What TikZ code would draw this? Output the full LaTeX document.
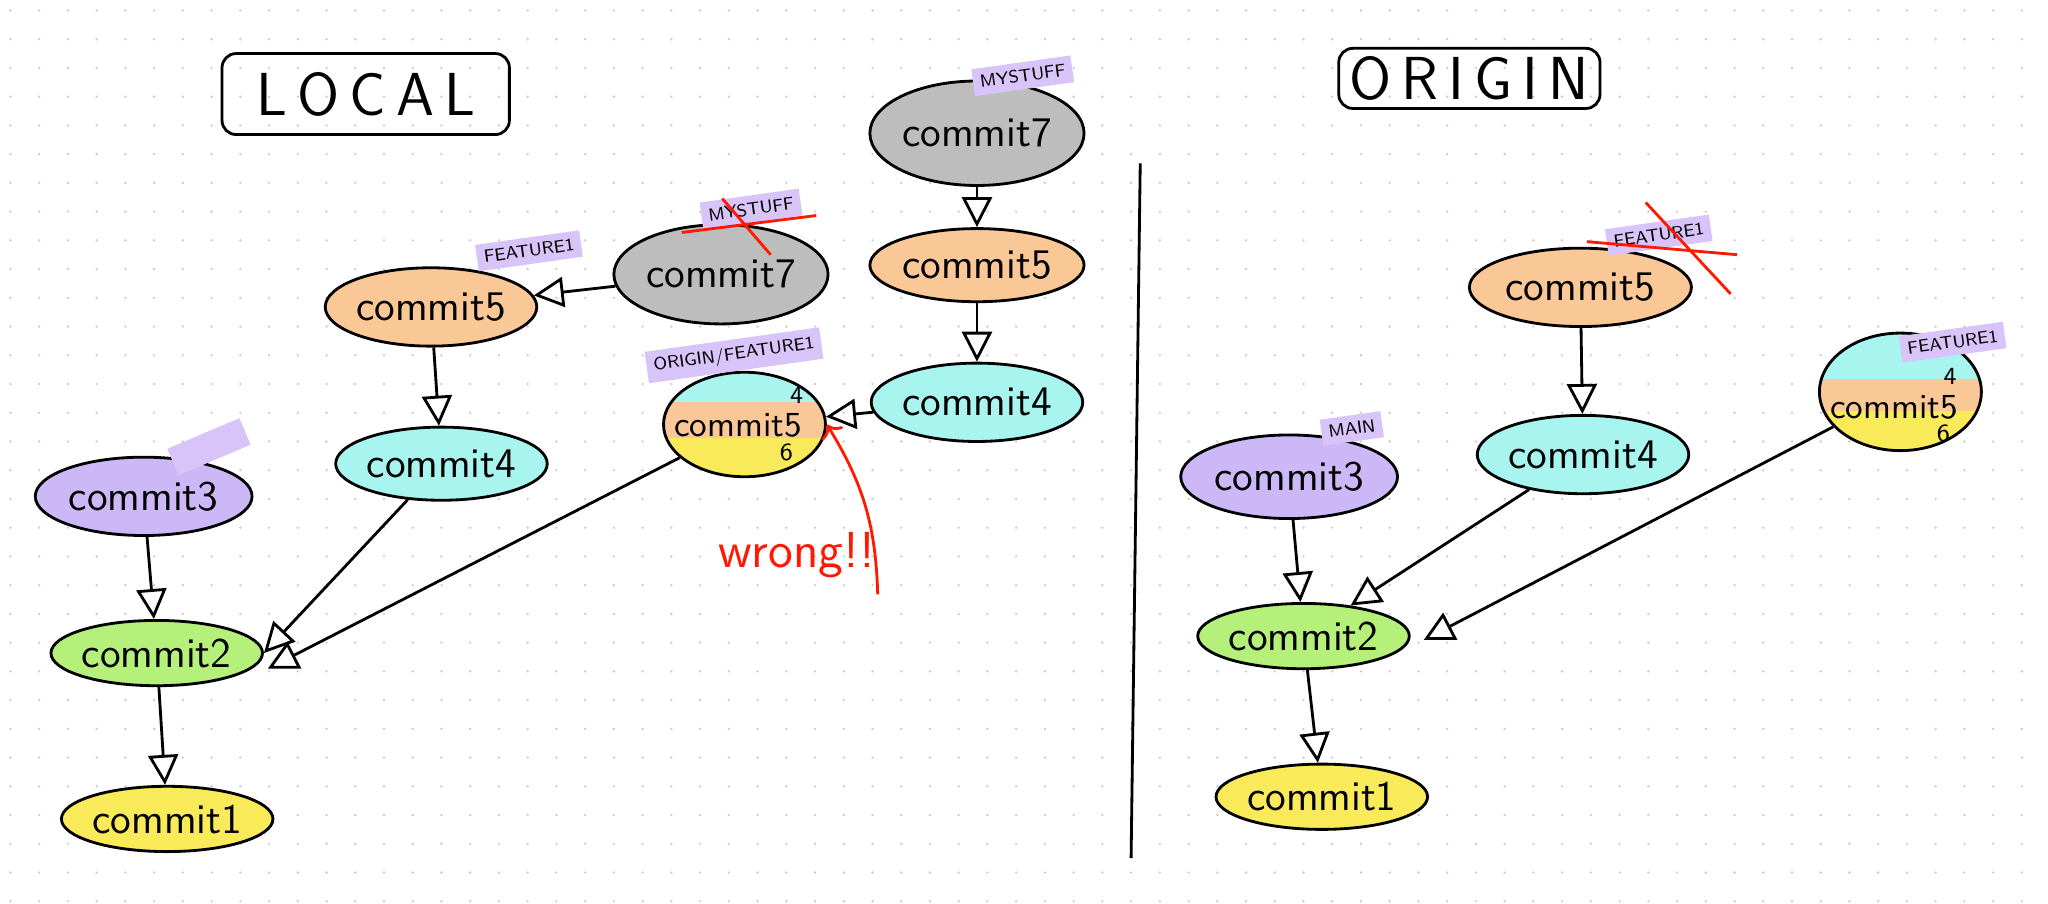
\documentclass[tikz,border=0pt]{standalone}
\usetikzlibrary{arrows.meta,positioning,shapes.geometric}
\definecolor{corange}{HTML}{F9C896}
\definecolor{ccyan}{HTML}{A8F5F0}
\definecolor{cpurple}{HTML}{CDB8F7}
\definecolor{cgreen}{HTML}{B5F07A}
\definecolor{cyellow}{HTML}{F9EA5A}
\definecolor{cgray}{HTML}{BDBDBD}
\definecolor{ctag}{HTML}{D9C4FA}
\tikzset{
	commit/.style 2 args={ellipse, draw, thick, font=\sffamily\large, minimum width=#1*0.01306cm, minimum height=#2*0.01306cm, inner sep=0pt},
	tag/.style={fill=ctag, font=\sffamily\tiny, inner sep=2pt, rotate=8},
	box/.style={draw, thick, rounded corners=4pt, font=\sffamily\LARGE, inner sep=0pt},
	edge/.style={-{Triangle[open,length=3mm,width=3mm]}, thick},
	cross/.style={red!80!orange, thick}
}
\begin{document}
\begin{tikzpicture}[x=0.01306cm, y=-0.01306cm]
		\useasboundingbox (0,0) rectangle (1568,692);
		\fill[white] (0,0) rectangle (1568,692);
		\foreach \i in {0,...,71} {\foreach \j in {0,...,31} {\fill[gray!40] (\i*22+8, \j*22+8) circle (1);}}
		% headings and divider
		\node[box, minimum width=220*0.01306cm, minimum height=62*0.01306cm] (local) at (280,72) {L\,O\,C\,A\,L};
		\node[box, minimum width=200*0.01306cm, minimum height=46*0.01306cm] (origin) at (1125,60) {O\,R\,I\,G\,I\,N};
		\coordinate (divtop) at (873,125);
		\coordinate (divbot) at (866,657);
		\draw[thick] (divtop) -- (divbot);
		% local side
		\node[commit={164}{80}, fill=cgray] (l7top) at (748,102) {commit7};
		\node[tag] (tl7top) at (783,58) {MYSTUFF};
		\node[commit={164}{56}, fill=corange] (l5b) at (748,203) {commit5};
		\node[commit={156}{60}, fill=ccyan] (l4b) at (748,308) {commit4};
		\node[commit={164}{76}, fill=cgray] (l7) at (552,210) {commit7};
		\node[tag] (tl7) at (575,160) {MYSTUFF};
		\draw[cross] (522,178) -- (625,165) (553,152) -- (590,195);
		\node[commit={150}{60}, fill=corange] (l5) at (330,235) {commit5};
		\node[tag] (tl5) at (405,192) {FEATURE1};
		\node[commit={156}{56}, fill=ccyan] (l4) at (338,355) {commit4};
		\begin{scope}
			\clip (570,325) ellipse (62 and 40);
			\fill[ccyan] (500,280) rectangle (640,308);
			\fill[corange] (500,308) rectangle (640,335);
			\fill[cyellow] (500,335) rectangle (640,370);
		\end{scope}
		\node[commit={124}{80}] (l45) at (570,325) {};
		\node[font=\sffamily\normalsize] (l45t) at (565,326) {commit5};
		\node[font=\sffamily\scriptsize] (l45a) at (610,303) {4};
		\node[font=\sffamily\scriptsize] (l45b) at (602,346) {6};
		\node[tag] (tl45) at (562,272) {ORIGIN/FEATURE1};
		\node[commit={166}{60}, fill=cpurple] (l3) at (110,380) {commit3};
		\node[tag, minimum width=60*0.01306cm, minimum height=22*0.01306cm, rotate=15] (tl3) at (160,342) {};
		\node[commit={130}{50}, fill=cgreen] (l2) at (120,500) {commit2};
		\node[commit={120}{50}, fill=cyellow] (l1) at (128,627) {commit1};
		\coordinate (l2in) at (205,512);
		\node[red!80!orange, font=\sffamily\Large] (wrong) at (610,425) {wrong!!};
		\coordinate (wrongtail) at (672,455);
		\draw[->, red!80!orange, thick] (wrongtail) to[bend right=15] (l45.east);
		\draw[edge] (l7top) -- (l5b);
		\draw[edge] (l5b) -- (l4b);
		\draw[edge] (l4b) -- (l45);
		\draw[edge] (l7) -- (l5);
		\draw[edge] (l5) -- (l4);
		\draw[edge] (l4) -- (l2.east);
		\draw[edge] (l3) -- (l2);
		\draw[edge] (l45) -- (l2in);
		\draw[edge] (l2) -- (l1);
		% origin side
		\node[commit={170}{60}, fill=corange] (o5) at (1210,220) {commit5};
		\node[tag] (to5) at (1270,180) {FEATURE1};
		\draw[cross] (1215,185) -- (1330,195) (1260,155) -- (1325,225);
		\node[commit={156}{60}, fill=ccyan] (o4) at (1212,348) {commit4};
		\begin{scope}
			\clip (1455,300) ellipse (62 and 45);
			\fill[ccyan] (1380,250) rectangle (1530,290);
			\fill[corange] (1380,290) rectangle (1530,315);
			\fill[cyellow] (1380,315) rectangle (1530,350);
		\end{scope}
		\node[commit={124}{90}] (o45) at (1455,300) {};
		\node[font=\sffamily\normalsize] (o45t) at (1450,312) {commit5};
		\node[font=\sffamily\scriptsize] (o45a) at (1493,288) {4};
		\node[font=\sffamily\scriptsize] (o45b) at (1488,332) {6};
		\node[tag] (to45) at (1495,262) {FEATURE1};
		\node[commit={166}{64}, fill=cpurple] (o3) at (987,365) {commit3};
		\node[tag] (to3) at (1035,328) {MAIN};
		\node[commit={136}{50}, fill=cgreen] (o2) at (998,487) {commit2};
		\node[commit={130}{50}, fill=cyellow] (o1) at (1012,610) {commit1};
		\coordinate (o2in) at (1090,490);
		\draw[edge] (o5) -- (o4);
		\draw[edge] (o4) -- (o2);
		\draw[edge] (o3) -- (o2);
		\draw[edge] (o45) -- (o2in);
		\draw[edge] (o2) -- (o1);
	\end{tikzpicture}
\end{document}
